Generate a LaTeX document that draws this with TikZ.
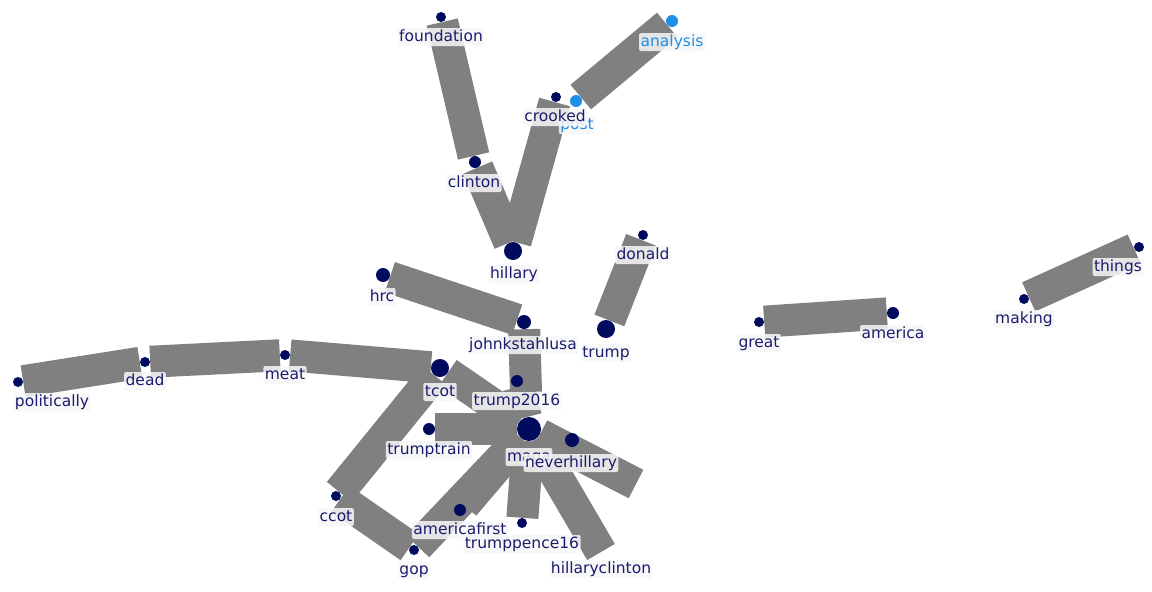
\documentclass[tikz,border=0pt]{standalone}
\usepackage{fontspec}
\setmainfont{DejaVu Sans}
\definecolor{barGray}{HTML}{808080}
\definecolor{dotNavy}{HTML}{000B5E}
\definecolor{txtNavy}{HTML}{1A1C6E}
\definecolor{skyBlue}{HTML}{1E90E6}
\pgfdeclarelayer{bars}
\pgfsetlayers{bars,main}
\begin{document}
\begin{tikzpicture}[x=1pt,y=-1pt,
  bar/.style={draw=barGray, line width=32pt, line cap=butt},
  dot/.style={circle, fill=dotNavy, inner sep=0pt, minimum size=#1},
  bluedot/.style={circle, fill=skyBlue, inner sep=0pt, minimum size=#1},
  lbl/.style={fill=white!97!black, fill opacity=0.85, text opacity=1, text=txtNavy,
    rounded corners=2pt, inner sep=1.5pt, text height=11.5pt, text depth=3.5pt,
    font=\fontsize{15.5}{15.5}\selectfont},
  bluelbl/.style={lbl, text=skyBlue}]
\useasboundingbox (0,0) rectangle (1152,592);

% word nodes (dots)
\node[dot=10] (foundation) at (441,17) {};
\node[bluedot=12] (analysis) at (672,21) {};
\node[bluedot=12] (post) at (576,101) {};
\node[dot=10] (crooked) at (556,97) {};
\node[dot=12] (clinton) at (475,162) {};
\node[dot=18] (hillary) at (513,251) {};
\node[dot=10] (donald) at (643,235) {};
\node[dot=14] (hrc) at (383,275) {};
\node[dot=14] (johnkstahlusa) at (524,322) {};
\node[dot=18] (trump) at (606,329) {};
\node[dot=10] (great) at (759,322) {};
\node[dot=12] (america) at (893,313) {};
\node[dot=10] (making) at (1024,299) {};
\node[dot=10] (things) at (1139,247) {};
\node[dot=10] (politically) at (18,382) {};
\node[dot=10] (dead) at (145,362) {};
\node[dot=10] (meat) at (285,355) {};
\node[dot=18] (tcot) at (440,368) {};
\node[dot=12] (trump2016) at (517,381) {};
\node[dot=12] (trumptrain) at (429,429) {};
\node[dot=24] (maga) at (529,429) {};
\node[dot=14] (neverhillary) at (572,440) {};
\node[dot=10] (ccot) at (336,496) {};
\node[dot=12] (americafirst) at (460,510) {};
\node[dot=10] (trumppence16) at (522,523) {};
\node[dot=10] (gop) at (414,550) {};
\coordinate (hillaryclinton) at (601,552);
\coordinate (fringe) at (636,484);
\coordinate (stahl-foot) at (526,392);

% co-occurrence bars
\begin{pgfonlayer}{bars}
\draw[bar] (foundation) -- (clinton);
\draw[bar] (clinton) -- (hillary);
\draw[bar] (crooked) -- (hillary);
\draw[bar] (post) -- (analysis);
\draw[bar] (hrc) -- (johnkstahlusa);
\draw[bar] (johnkstahlusa) -- (stahl-foot);
\draw[bar] (trump2016) -- (maga);
\draw[bar] (donald) -- (trump);
\draw[bar] (great) -- (america);
\draw[bar] (making) -- (things);
\draw[bar] (politically) -- (dead);
\draw[bar] (dead) -- (meat);
\draw[bar] (meat) -- (tcot);
\draw[bar] (tcot) -- (ccot);
\draw[bar] (ccot) -- (gop);
\draw[bar] (gop) -- (maga);
\draw[bar] (americafirst) -- (maga);
\draw[bar] (trumptrain) -- (maga);
\draw[bar] (tcot) -- (maga);
\draw[bar] (maga) -- (fringe);
\draw[bar] (maga) -- (trumppence16);
\draw[bar] (maga) -- (hillaryclinton);
\end{pgfonlayer}

% word labels
\node[lbl] (foundation-l) at (441,37) {foundation};
\node[bluelbl] (analysis-l) at (672,42) {analysis};
\node[bluelbl] (post-l) at (577,125) {post};
\node[lbl] (crooked-l) at (555,117) {crooked};
\node[lbl] (clinton-l) at (474,183) {clinton};
\node[lbl] (hillary-l) at (514,274) {hillary};
\node[lbl] (donald-l) at (643,255) {donald};
\node[lbl] (hrc-l) at (382,297) {hrc};
\node[lbl] (johnkstahlusa-l) at (523,345) {johnkstahlusa};
\node[lbl] (trump-l) at (606,353) {trump};
\node[lbl] (great-l) at (759,343) {great};
\node[lbl] (america-l) at (893,334) {america};
\node[lbl] (making-l) at (1024,319) {making};
\node[lbl] (things-l) at (1118,267) {things};
\node[lbl] (politically-l) at (52,402) {politically};
\node[lbl] (dead-l) at (145,381) {dead};
\node[lbl] (meat-l) at (285,375) {meat};
\node[lbl] (tcot-l) at (440,392) {tcot};
\node[lbl] (trump2016-l) at (517,401) {trump2016};
\node[lbl] (trumptrain-l) at (429,450) {trumptrain};
\node[lbl] (maga-l) at (529,457) {maga};
\node[lbl] (neverhillary-l) at (571,463) {neverhillary};
\node[lbl] (ccot-l) at (336,517) {ccot};
\node[lbl] (americafirst-l) at (460,530) {americafirst};
\node[lbl] (trumppence16-l) at (522,544) {trumppence16};
\node[lbl] (gop-l) at (414,570) {gop};
\node[lbl] (hillaryclinton-l) at (601,569) {hillaryclinton};
\end{tikzpicture}
\end{document}
